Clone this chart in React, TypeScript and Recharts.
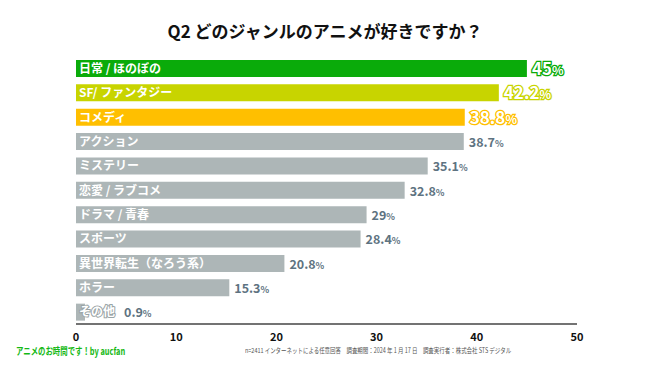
import { BarChart, Bar, XAxis, YAxis, Cell, LabelList } from 'recharts';

const genres = [
  '日常 / ほのぼの',
  'SF/ ファンタジー',
  'コメディ',
  'アクション',
  'ミステリー',
  '恋愛 / ラブコメ',
  'ドラマ / 青春',
  'スポーツ',
  '異世界転生（なろう系）',
  'ホラー',
  'その他',
];
const shares = [45, 42.2, 38.8, 38.7, 35.1, 32.8, 29, 28.4, 20.8, 15.3, 0.9];
const barColors = [
  '#0aab0a',
  '#c8d400',
  '#ffbf00',
  '#adb6b7',
  '#adb6b7',
  '#adb6b7',
  '#adb6b7',
  '#adb6b7',
  '#adb6b7',
  '#adb6b7',
  '#adb6b7',
];
const xTicks = [0, 10, 20, 30, 40, 50];

const data = genres.map((name, i) => ({ name, value: shares[i], color: barColors[i] }));

const FONT = '"Noto Sans CJK JP", "Noto Sans", sans-serif';

// the name overflows the tiny "その他" bar, so the value sits after the name
const NAME_MIN_END = 43;

const NameLabel = (props: any) => {
  const { x, y, height, value, width } = props;
  const outside = width < 40;
  return (
    <text
      x={x + 3}
      y={y + height / 2}
      dy="0.36em"
      fill="#fff"
      stroke={outside ? '#9aa4a6' : 'none'}
      strokeWidth={outside ? 2 : 0}
      paintOrder="stroke"
      fontSize={12}
      fontWeight={700}
      fontFamily={FONT}
    >
      {value}
    </text>
  );
};

const ValueLabel = (props: any) => {
  const { x, y, width, height, value, index } = props;
  const top = index < 3;
  const color = barColors[index];
  const start = x + Math.max(width, NAME_MIN_END) + 5;
  if (top) {
    return (
      <text
        x={start}
        y={y + height / 2}
        dy="0.38em"
        fill="#fff"
        stroke={color}
        strokeWidth={2.6}
        paintOrder="stroke"
        fontSize={17}
        fontWeight={700}
        fontFamily={FONT}
      >
        {value}
        <tspan fontSize={12}>%</tspan>
      </text>
    );
  }
  return (
    <text
      x={start}
      y={y + height / 2}
      dy="0.42em"
      fill="#5e7381"
      fontSize={12.5}
      fontWeight={700}
      fontFamily={FONT}
    >
      {value}
      <tspan fontSize={9}>%</tspan>
    </text>
  );
};

export default function App() {
  return (
    <div
      style={{
        position: 'absolute',
        left: 0,
        top: 0,
        width: 650,
        height: 366,
        background: '#fff',
        fontFamily: FONT,
      }}
    >
      <div
        style={{
          position: 'absolute',
          top: 18,
          width: 650,
          textAlign: 'center',
          fontSize: 17,
          fontWeight: 700,
          color: '#111',
        }}
      >
        Q2 どのジャンルのアニメが好きですか？
      </div>
      <BarChart
        width={650}
        height={366}
        data={data}
        layout="vertical"
        margin={{ top: 56, right: 73, bottom: 12, left: 76 }}
        barCategoryGap={7}
      >
        <XAxis
          type="number"
          domain={[0, 50]}
          ticks={xTicks}
          height={30}
          axisLine={{ stroke: '#444', strokeWidth: 1.5 }}
          tickLine={false}
          tick={{ fill: '#111', fontSize: 11, fontWeight: 700, fontFamily: FONT }}
          tickMargin={3}
        />
        <YAxis
          type="category"
          dataKey="name"
          width={0}
          tick={false}
          tickLine={false}
          axisLine={{ stroke: '#222', strokeWidth: 1.5 }}
        />
        <Bar dataKey="value" isAnimationActive={false} barSize={17}>
          {data.map((d, i) => (
            <Cell key={i} fill={d.color} />
          ))}
          <LabelList dataKey="name" content={NameLabel} />
          <LabelList dataKey="value" content={ValueLabel} />
        </Bar>
      </BarChart>
      <div
        style={{
          position: 'absolute',
          left: 16,
          top: 343,
          fontSize: 10,
          fontWeight: 700,
          color: '#14b814',
          whiteSpace: 'pre',
          transform: 'scaleX(0.74)',
          transformOrigin: 'left',
        }}
      >
        アニメのお時間です！by aucfan
      </div>
      <div
        style={{
          position: 'absolute',
          left: 245,
          top: 345,
          fontSize: 7,
          color: '#555',
          whiteSpace: 'pre',
          transform: 'scaleX(0.78)',
          transformOrigin: 'left',
        }}
      >
        n=2411 インターネットによる任意回答　調査期間：2024 年 1 月 17 日　調査実行者：株式会社 STS デジタル
      </div>
    </div>
  );
}
